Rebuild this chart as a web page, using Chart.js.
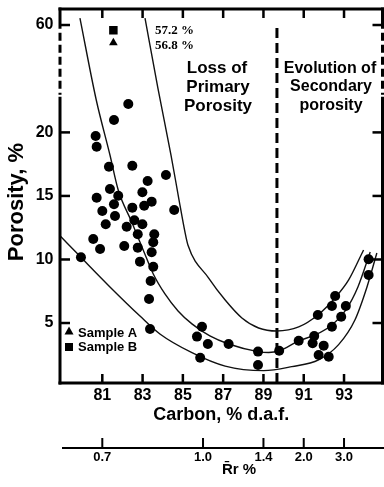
<!DOCTYPE html>
<html>
<head>
<meta charset="utf-8">
<script src="https://cdn.jsdelivr.net/npm/chart.js@4.4.1/dist/chart.umd.min.js"></script>
<style>
  html, body { margin: 0; padding: 0; background: #fff; }
</style>
</head>
<body>
<canvas id="porosityChart" width="384" height="487"></canvas>
<script>
// axis ticks
const carbonTicks = [81, 83, 85, 87, 89, 91, 93];
const porosityTicks = [5, 10, 15, 20, 60];
const rrLabels = ['0.7', '1.0', '1.4', '2.0', '3.0'];
const rrCarbon = [81, 86, 89, 91, 93];

// measured coals
const sampleCarbon = [81.33, 82.49, 83.25, 84.16, 81.38, 81.79, 80.72, 82.99, 83.45, 83.08,
  81.58, 82.49, 84.57, 81.00, 81.63, 82.59, 82.99, 81.17, 82.21, 82.76,
  83.58, 80.55, 83.53, 80.89, 82.09, 82.76, 83.45, 82.87, 83.53, 83.40,
  83.32, 83.37, 79.94, 80.67, 80.72, 81.58, 82.29,
  85.95, 85.70, 86.24, 85.86, 87.27, 88.73, 88.73, 89.78, 90.75, 91.52,
  91.44, 91.99, 91.74, 92.24, 91.70, 92.40, 92.56, 92.40, 92.86, 93.09,
  94.22, 94.22];
const samplePorosity = [17.30, 17.38, 16.18, 16.65, 15.55, 15.02, 14.86, 15.29, 14.55, 14.23,
  14.34, 14.08, 13.89, 13.82, 13.42, 13.08, 12.77, 12.77, 12.58, 11.98,
  11.98, 11.61, 11.35, 10.83, 11.06, 10.93, 10.57, 9.83, 9.43, 8.31,
  6.89, 4.53, 10.17, 19.72, 18.87, 20.98, 22.23,
  4.71, 3.93, 3.35, 2.27, 3.35, 2.75, 1.70, 2.82, 3.61, 3.98,
  3.41, 3.22, 2.49, 2.35, 5.63, 6.34, 7.13, 4.71, 5.50, 6.34,
  10.02, 8.78];
const sampleACarbon = [81.55];
const sampleAPorosity = [50.5];
const sampleBCarbon = [81.55];
const sampleBPorosity = [57.2];

// envelope curves
const lowerCarbon = [78.90, 79.94, 81.38, 82.87, 83.86, 85.45, 87.10, 89.01, 90.41, 91.74, 92.73, 93.54, 94.14, 94.63];
const lowerPorosity = [11.87, 10.17, 7.84, 5.55, 4.14, 2.67, 1.61, 1.25, 1.57, 2.10, 3.30, 5.24, 7.84, 10.51];
const midCarbon = [79.89, 80.70, 81.38, 81.79, 82.46, 83.03, 83.53, 84.11, 84.76, 85.45, 86.34, 87.27, 88.73, 89.26, 89.78, 90.75, 91.56, 92.40, 93.09, 93.69, 94.30];
const midPorosity = [63.7, 22.55, 18.22, 15.47, 12.95, 10.75, 8.86, 7.29, 5.95, 4.93, 3.98, 3.35, 2.75, 2.68, 2.82, 3.59, 4.06, 4.85, 6.03, 7.84, 10.59];
const upperCarbon = [83.12, 83.76, 84.41, 84.81, 85.10, 85.25, 86.28, 87.10, 87.93, 88.76, 89.67, 90.75, 91.70, 92.55, 93.23, 93.97];
const upperPorosity = [63.7, 26.3, 18.22, 14.68, 12.19, 11.14, 8.54, 6.81, 5.40, 4.61, 4.37, 4.69, 5.63, 6.97, 8.39, 10.75];

// primary / secondary boundary
const dividerCarbon = [89.67, 89.67];
const dividerPorosity = [0.28, 60];

// broken porosity axis: linear up to 23 %, squeezed above
function brk(v) { return v <= 23 ? v : 23 + (v - 23) * 0.1473; }
function pts(xs, ys) { return xs.map((x, i) => ({x: x, y: brk(ys[i])})); }

Chart.defaults.font.family = "'Liberation Sans', Arial, sans-serif";
Chart.defaults.font.weight = 'bold';
Chart.defaults.color = '#000';

const curve = {showLine: true, borderColor: '#111', borderWidth: 1.4, pointRadius: 0,
  cubicInterpolationMode: 'monotone', fill: false};
const noGrid = {display: false, drawTicks: false};

const framePlugin = {
  id: 'frame',
  afterDraw(chart) {
    const c = chart.ctx, a = chart.chartArea;
    const x = chart.scales.x, y = chart.scales.y, xr = chart.scales.xr;
    const yA = y.getPixelForValue(brk(58));
    const yB = y.getPixelForValue(brk(22.8));
    function line(x1, y1, x2, y2) { c.beginPath(); c.moveTo(x1, y1); c.lineTo(x2, y2); c.stroke(); }
    c.save();
    c.strokeStyle = '#000';
    c.fillStyle = '#000';
    c.lineWidth = 3;
    line(a.left - 1.5, a.top, a.right + 1.5, a.top);
    line(a.left - 1.5, a.bottom, a.right + 1.5, a.bottom);
    [a.left, a.right].forEach(px => {
      line(px, a.top - 1.5, px, yA);
      c.setLineDash([8, 4]);
      line(px, yA + 4, px, yB - 2);
      c.setLineDash([]);
      line(px, yB, px, a.bottom + 1.5);
    });

    // inner tick marks
    carbonTicks.forEach(v => {
      const px = x.getPixelForValue(v);
      c.fillRect(px - 1.25, a.bottom - 9, 2.5, 9);
      c.fillRect(px - 1.25, a.top, 2.5, 9);
    });
    porosityTicks.forEach(v => {
      const py = y.getPixelForValue(brk(v));
      c.fillRect(a.left, py - 1.25, 10, 2.5);
      c.fillRect(a.right - 10, py - 1.25, 10, 2.5);
    });

    // vitrinite reflectance scale
    c.fillRect(a.left + 2, xr.top - 1, a.right - a.left, 2);
    rrCarbon.forEach(v => {
      const px = xr.getPixelForValue(v);
      c.fillRect(px - 1, xr.top - 10, 2, 10);
    });

    c.textBaseline = 'middle';
    c.textAlign = 'left';
    c.font = "bold 13px 'Liberation Serif', serif";
    c.fillText('57.2 %', 155, 31);
    c.fillText('56.8 %', 155, 46);

    c.textAlign = 'center';
    c.font = "bold 17px 'Liberation Sans', Arial, sans-serif";
    c.fillText('Loss of', 217, 68);
    c.fillText('Primary', 218, 87);
    c.fillText('Porosity', 218, 106);
    c.font = "bold 16px 'Liberation Sans', Arial, sans-serif";
    c.fillText('Evolution of', 330, 69);
    c.fillText('Secondary', 331, 87);
    c.fillText('porosity', 331, 106);

    // legend
    c.beginPath();
    c.moveTo(69, 326.5); c.lineTo(73.5, 334.5); c.lineTo(64.5, 334.5); c.closePath(); c.fill();
    c.fillRect(65, 343, 8, 8);
    c.textAlign = 'left';
    c.font = "bold 13px 'Liberation Sans', Arial, sans-serif";
    c.fillText('Sample A', 78, 333);
    c.fillText('Sample B', 78, 347);

    c.textAlign = 'center';
    c.font = "bold 15px 'Liberation Sans', Arial, sans-serif";
    c.fillText('R\u0304r %', 239, 470);
    c.restore();
  }
};

const ctx = document.getElementById('porosityChart');
new Chart(ctx, {
  type: 'scatter',
  data: {
    datasets: [
      {data: pts(sampleCarbon, samplePorosity), pointRadius: 5, backgroundColor: '#000', borderColor: '#000', borderWidth: 0},
      {data: pts(sampleACarbon, sampleAPorosity), pointStyle: 'triangle', pointRadius: 5, backgroundColor: '#000', borderColor: '#000', borderWidth: 0},
      {data: pts(sampleBCarbon, sampleBPorosity), pointStyle: 'rect', pointRadius: 6, backgroundColor: '#000', borderColor: '#000', borderWidth: 0},
      Object.assign({data: pts(lowerCarbon, lowerPorosity)}, curve),
      Object.assign({data: pts(midCarbon, midPorosity)}, curve),
      Object.assign({data: pts(upperCarbon, upperPorosity)}, curve),
      {data: pts(dividerCarbon, dividerPorosity), showLine: true, borderColor: '#000', borderWidth: 3,
        borderDash: [10, 5], pointRadius: 0}
    ]
  },
  options: {
    responsive: false,
    animation: false,
    layout: {autoPadding: false, padding: {top: 9, left: 0, right: 0, bottom: 0}},
    plugins: {legend: {display: false}, tooltip: {enabled: false}},
    scales: {
      x: {
        type: 'linear', position: 'bottom', min: 78.9, max: 94.91, weight: 0,
        afterBuildTicks: s => { s.ticks = carbonTicks.map(v => ({value: v})); },
        afterFit: s => { s.height = 65; s.paddingLeft = 0; s.paddingRight = 0; },
        grid: noGrid,
        border: {display: false},
        ticks: {padding: 3, autoSkip: false, maxRotation: 0, font: {size: 16, weight: 'bold'}, color: '#000'},
        title: {display: true, text: 'Carbon, % d.a.f.', color: '#000',
          font: {size: 18, weight: 'bold'}, padding: {top: 0, bottom: 22}}
      },
      xr: {
        type: 'linear', position: 'bottom', min: 78.9, max: 94.91, weight: 1,
        afterBuildTicks: s => { s.ticks = rrCarbon.map(v => ({value: v})); },
        afterFit: s => { s.height = 39; s.paddingLeft = 0; s.paddingRight = 0; },
        grid: noGrid,
        border: {display: false},
        ticks: {padding: 2, autoSkip: false, maxRotation: 0, font: {size: 13, weight: 'bold'}, color: '#000',
          callback: (v, i) => rrLabels[i]}
      },
      y: {
        type: 'linear', position: 'left', min: 0.28, max: 29.71,
        afterBuildTicks: s => { s.ticks = porosityTicks.map(v => ({value: brk(v)})); },
        afterFit: s => { s.width = 60; s.paddingTop = 0; s.paddingBottom = 0; },
        grid: noGrid,
        border: {display: false},
        ticks: {padding: 6.5, autoSkip: false, font: {size: 16, weight: 'bold'}, color: '#000',
          callback: (v, i) => porosityTicks[i]},
        title: {display: true, text: 'Porosity, %  ', color: '#000',
          font: {size: 22, weight: 'bold'}, padding: {top: 4, bottom: 0}}
      },
      yr: {
        type: 'linear', position: 'right', min: 0.28, max: 29.71,
        afterFit: s => { s.width = 1.5; s.paddingTop = 0; s.paddingBottom = 0; },
        grid: noGrid,
        border: {display: false},
        ticks: {display: false}
      }
    }
  },
  plugins: [framePlugin]
});
</script>
</body>
</html>
